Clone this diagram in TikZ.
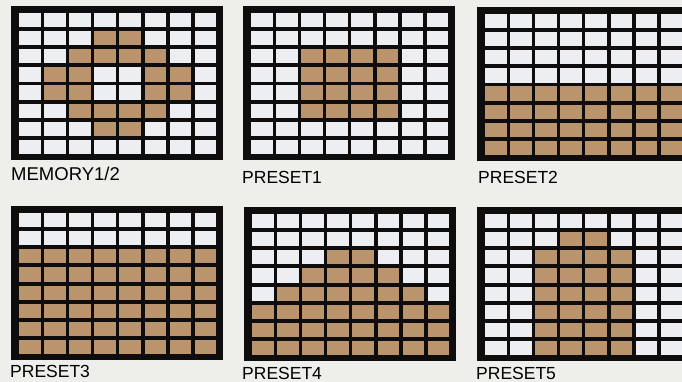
\documentclass[tikz,border=0pt]{standalone}
\usepackage{fontspec}
\setmainfont{Liberation Sans}
\usepackage{tikz}
\definecolor{paper}{RGB}{238,238,235}
\definecolor{frame}{RGB}{14,12,12}
\definecolor{ledoff}{RGB}{236,238,242}
\definecolor{ledon}{RGB}{186,148,108}

% #1,#2 top left corner of the panel, #3 lit cells as row/first/last
\newcommand{\ledpanel}[3]{%
  \fill[frame] (#1,#2) rectangle ++(212,154);
  \foreach \r in {0,...,7}
    \foreach \c in {0,...,7}
      \fill[ledoff] (#1+8+\c*25.1,#2+6.7+\r*18.2) rectangle ++(21.5,14.3);
  \foreach \r/\a/\b in {#3}
    \foreach \c in {\a,...,\b}
      \fill[ledon] (#1+8+\c*25.1,#2+6.7+\r*18.2) rectangle ++(21.5,14.3);
}

\begin{document}
\begin{tikzpicture}[x=1pt,y=-1pt,
    lbl/.style={anchor=base west,inner sep=0pt,font=\fontsize{17.5}{20}\selectfont}]
    \useasboundingbox (0,0) rectangle (682,382);
    \clip (0,0) rectangle (682,382);
    \fill[paper] (0,0) rectangle (682,382);

    \ledpanel{11}{6}{1/3/4,2/2/5,3/1/2,3/5/6,4/1/2,4/5/6,5/2/5,6/3/4}
    \ledpanel{243}{6}{2/2/5,3/2/5,4/2/5,5/2/5}
    \ledpanel{477}{7}{4/0/7,5/0/7,6/0/7,7/0/7}
    \ledpanel{11}{206}{2/0/7,3/0/7,4/0/7,5/0/7,6/0/7,7/0/7}
    \ledpanel{244}{207}{2/3/4,3/2/5,4/1/6,5/0/7,6/0/7,7/0/7}
    \ledpanel{477}{207}{1/3/4,2/2/5,3/2/5,4/2/5,5/2/5,6/2/5,7/2/5}

    \node[lbl,font=\fontsize{18.5}{20}\selectfont] (memory) at (11,180) {MEMORY1/2};
    \node[lbl] (preset1) at (242,184) {PRESET1};
    \node[lbl] (preset2) at (478,183.5) {PRESET2};
    \node[lbl] (preset3) at (10,377.5) {PRESET3};
    \node[lbl] (preset4) at (242,379.5) {PRESET4};
    \node[lbl] (preset5) at (476,379) {PRESET5};
\end{tikzpicture}
\end{document}
